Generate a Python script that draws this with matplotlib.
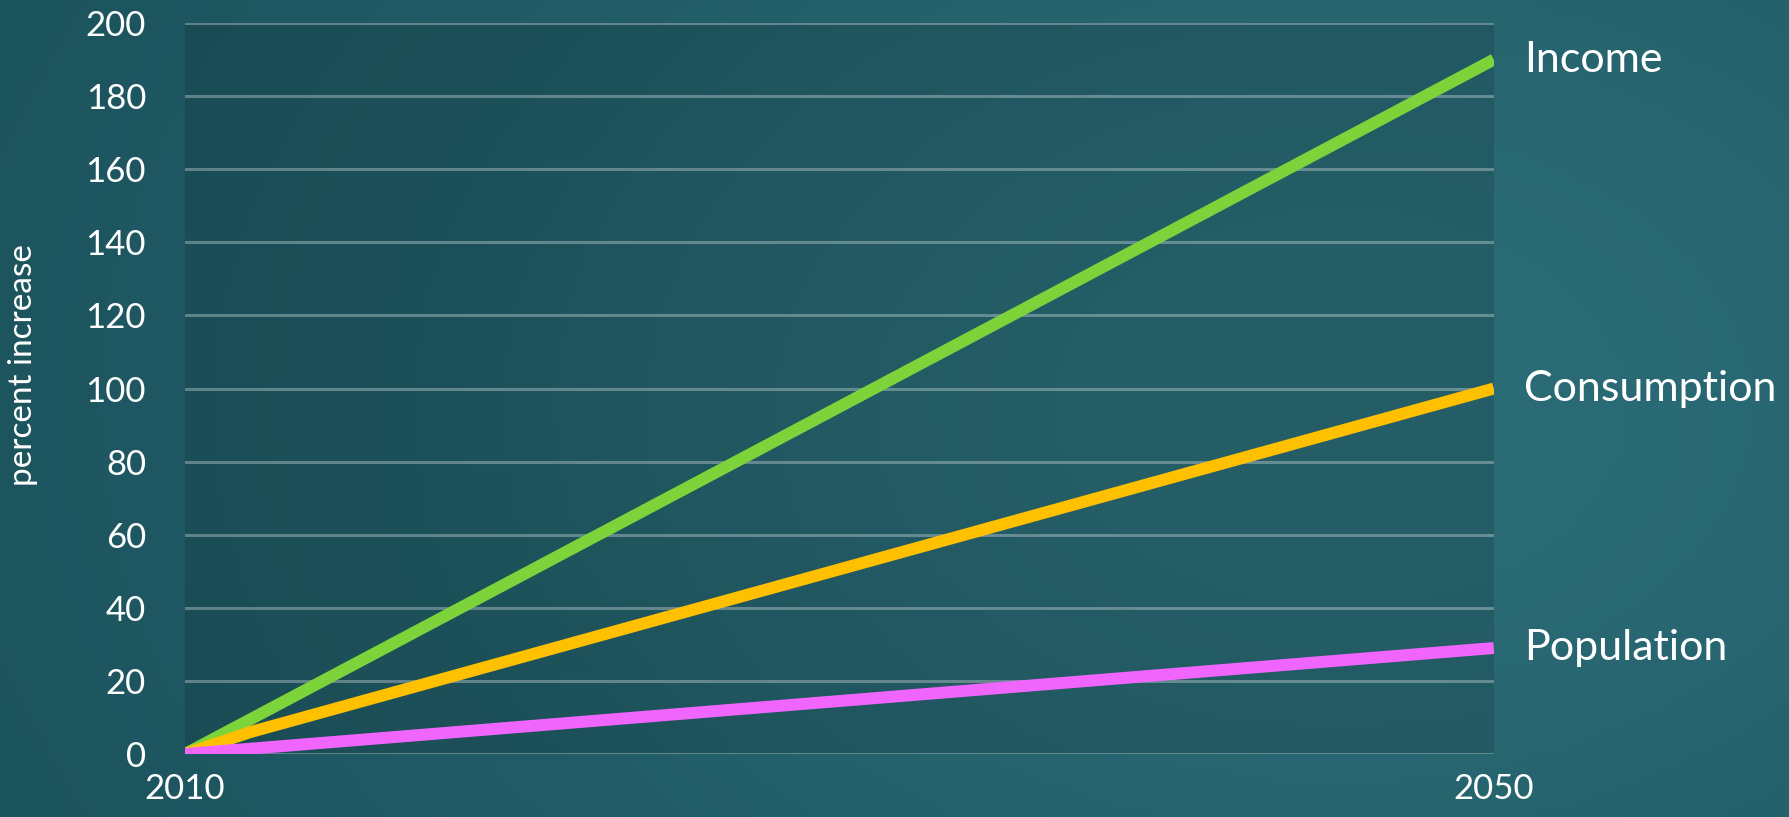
import numpy as np
import matplotlib
matplotlib.use('Agg')
import matplotlib.pyplot as plt

plt.rcParams['font.family'] = ['Lato', 'DejaVu Sans']

# данные
income_years = [2010, 2050]
income = [0, 190]
consumption_years = [2010, 2012, 2050]
consumption = [0, 6, 100]
population_years = [2010, 2050]
population = [0, 29]

series = [
    ('Income', income_years, income, '#7cd33a'),
    ('Consumption', consumption_years, consumption, '#ffc000'),
    ('Population', population_years, population, '#f066fc'),
]
y_ticks = [0, 20, 40, 60, 80, 100, 120, 140, 160, 180, 200]
x_ticks = [2010, 2050]

fig = plt.figure(figsize=(17.89, 8.17), dpi=100)

# фон - мягкий градиент
bg = fig.add_axes([0, 0, 1, 1], zorder=-10)
gx, gy = np.meshgrid(np.linspace(0, 1, 300), np.linspace(0, 1, 150))
shade = np.exp(-((gx - 0.75) ** 2 / 0.35 + (gy - 0.5) ** 2 / 0.8))
dark = np.array([0x1a, 0x50, 0x5a]) / 255
light = np.array([0x2b, 0x6c, 0x76]) / 255
img = dark + (light - dark) * shade[..., None]
bg.imshow(img, aspect='auto', extent=[0, 1, 0, 1])
bg.axis('off')

ax = fig.add_axes([0.1034, 0.0771, 0.835 - 0.1034, 0.9718 - 0.0771])
ax.set_facecolor((0, 0, 0, 0.12))

for name, xs, ys, color in series:
    ax.plot(xs, ys, color=color, linewidth=8.6, solid_capstyle='butt', zorder=3)
    ax.annotate(name, xy=(xs[-1], ys[-1]), xytext=(22, 0), textcoords='offset points',
                va='center', ha='left', color='white', fontsize=31, annotation_clip=False)

ax.set_xlim(2010, 2050)
ax.set_ylim(0, 200)
ax.set_yticks(y_ticks)
ax.set_xticks(x_ticks)
ax.grid(axis='y', color='white', alpha=0.3, linewidth=2.2)
ax.grid(axis='x', visible=False)
for s in ax.spines.values():
    s.set_visible(False)
ax.tick_params(length=0, colors='white', labelsize=25)
ax.tick_params(axis='y', pad=28)
ax.tick_params(axis='x', pad=14)

fig.text(0.013, 0.553, 'percent increase', rotation=90, color='white', fontsize=24,
         va='center', ha='center')

fig.savefig('out.png', dpi=100)
